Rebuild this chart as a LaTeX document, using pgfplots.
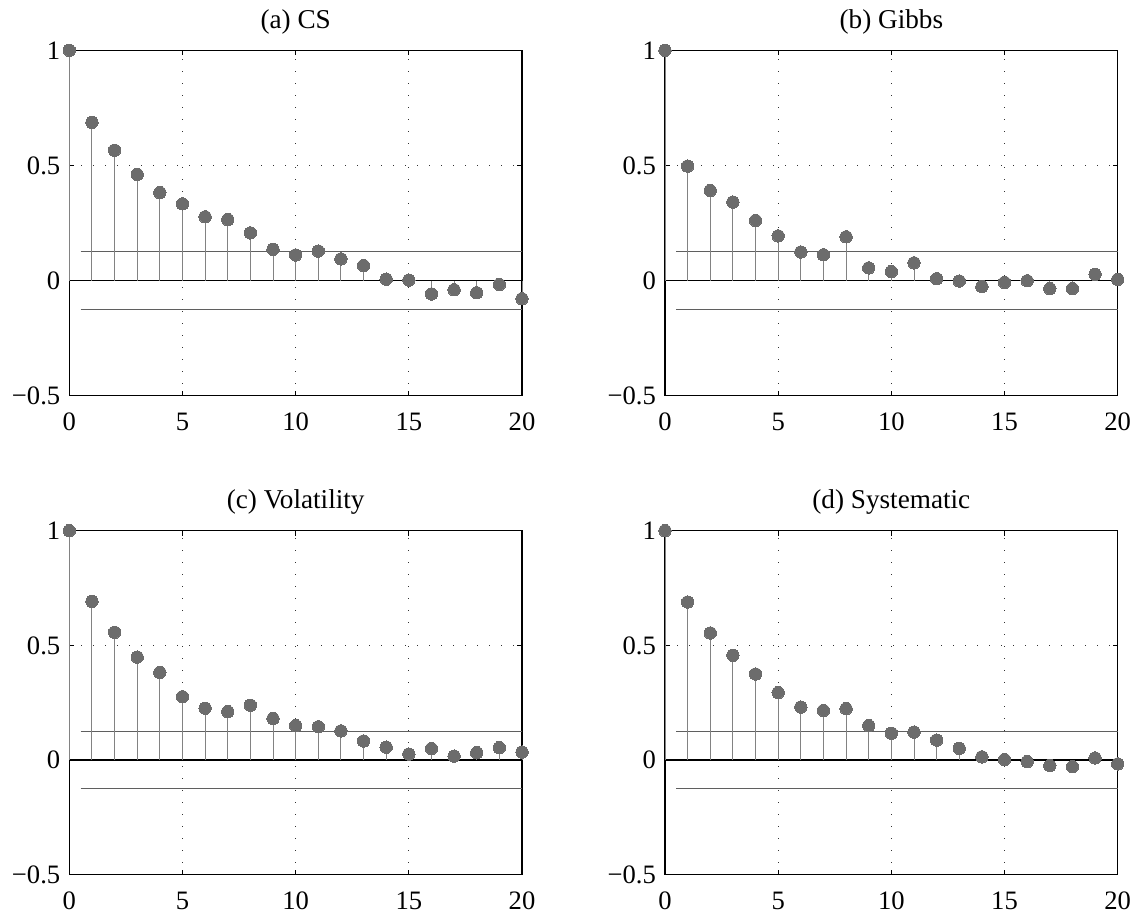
\documentclass[border=0pt]{standalone}
\usepackage{pgfplots}
\pgfplotsset{compat=1.18}
\usepackage{fontspec}
\setmainfont{Liberation Serif}
\definecolor{mkcol}{RGB}{108,108,108}
\definecolor{stemcol}{RGB}{130,130,130}
\definecolor{confcol}{RGB}{95,95,95}
\pgfplotsset{acf/.style={
  scale only axis, width=226.35pt, height=172.7pt,
  anchor=south west,
  xmin=0, xmax=20, ymin=-0.5, ymax=1,
  xtick={0,5,10,15,20}, ytick={-0.5,0,0.5,1},
  xticklabels={0,5,10,15,20}, yticklabels={−0.5,0,0.5,1},
  tick align=inside, major tick length=2.5pt,
  xmajorgrids, ymajorgrids,
  grid style={black!80, line width=0.45pt, dash pattern=on 0.45pt off 5.55pt},
  axis line style={line width=0.75pt},
  every tick/.style={black, line width=0.5pt},
  tick label style={font=\fontsize{13.3}{16}\selectfont},
  yticklabel style={anchor=east, xshift=-1pt},
  xticklabel style={anchor=base, yshift=-17.2pt},
  title style={font=\fontsize{13.6}{16}\selectfont, at={(0.5,1)}, anchor=base, yshift=4.9pt},
  clip=false,
}}
\newcommand{\conf}{%
  \addplot[draw=confcol, line width=0.55pt] coordinates {(0.5,0.125) (20,0.125)};
  \addplot[draw=confcol, line width=0.55pt] coordinates {(0.5,-0.125) (20,-0.125)};
  \addplot[black, line width=0.75pt] coordinates {(0,0) (20,0)};
}
\tikzset{stemplot/.style={ycomb, draw=stemcol, line width=0.5pt, mark=*, mark size=3.1pt, mark options={draw=mkcol, fill=mkcol, line width=0pt}}}
\begin{document}
\begin{tikzpicture}
\path[use as bounding box] (0,0) rectangle (569pt,458pt);
\begin{axis}[acf, at={(34.65pt,260.15pt)}, title={(a) CS}]
\conf
\addplot[stemplot] coordinates {
(0,1) (1,0.687) (2,0.566) (3,0.461) (4,0.382) (5,0.333) (6,0.277) (7,0.265) (8,0.207) (9,0.136) (10,0.111)
(11,0.128) (12,0.094) (13,0.065) (14,0.006) (15,0.002) (16,-0.058) (17,-0.040) (18,-0.053) (19,-0.017) (20,-0.079)};
\end{axis}
\begin{axis}[acf, at={(332.5pt,260.15pt)}, title={(b) Gibbs}]
\conf
\addplot[stemplot] coordinates {
(0,1) (1,0.497) (2,0.391) (3,0.341) (4,0.261) (5,0.194) (6,0.124) (7,0.112) (8,0.190) (9,0.055) (10,0.039)
(11,0.077) (12,0.008) (13,-0.002) (14,-0.026) (15,-0.008) (16,-0.001) (17,-0.035) (18,-0.035) (19,0.027) (20,0.005)};
\end{axis}
\begin{axis}[acf, at={(34.65pt,20.65pt)}, height=172pt, title={(c) Volatility}]
\conf
\addplot[stemplot] coordinates {
(0,1) (1,0.692) (2,0.557) (3,0.449) (4,0.382) (5,0.276) (6,0.226) (7,0.211) (8,0.239) (9,0.181) (10,0.150)
(11,0.145) (12,0.127) (13,0.083) (14,0.056) (15,0.026) (16,0.050) (17,0.017) (18,0.032) (19,0.054) (20,0.035)};
\end{axis}
\begin{axis}[acf, at={(332.5pt,20.65pt)}, height=172pt, title={(d) Systematic}]
\conf
\addplot[stemplot] coordinates {
(0,1) (1,0.689) (2,0.554) (3,0.457) (4,0.375) (5,0.294) (6,0.231) (7,0.216) (8,0.224) (9,0.150) (10,0.117)
(11,0.122) (12,0.087) (13,0.051) (14,0.014) (15,0.002) (16,-0.007) (17,-0.024) (18,-0.029) (19,0.009) (20,-0.017)};
\end{axis}
\end{tikzpicture}
\end{document}
